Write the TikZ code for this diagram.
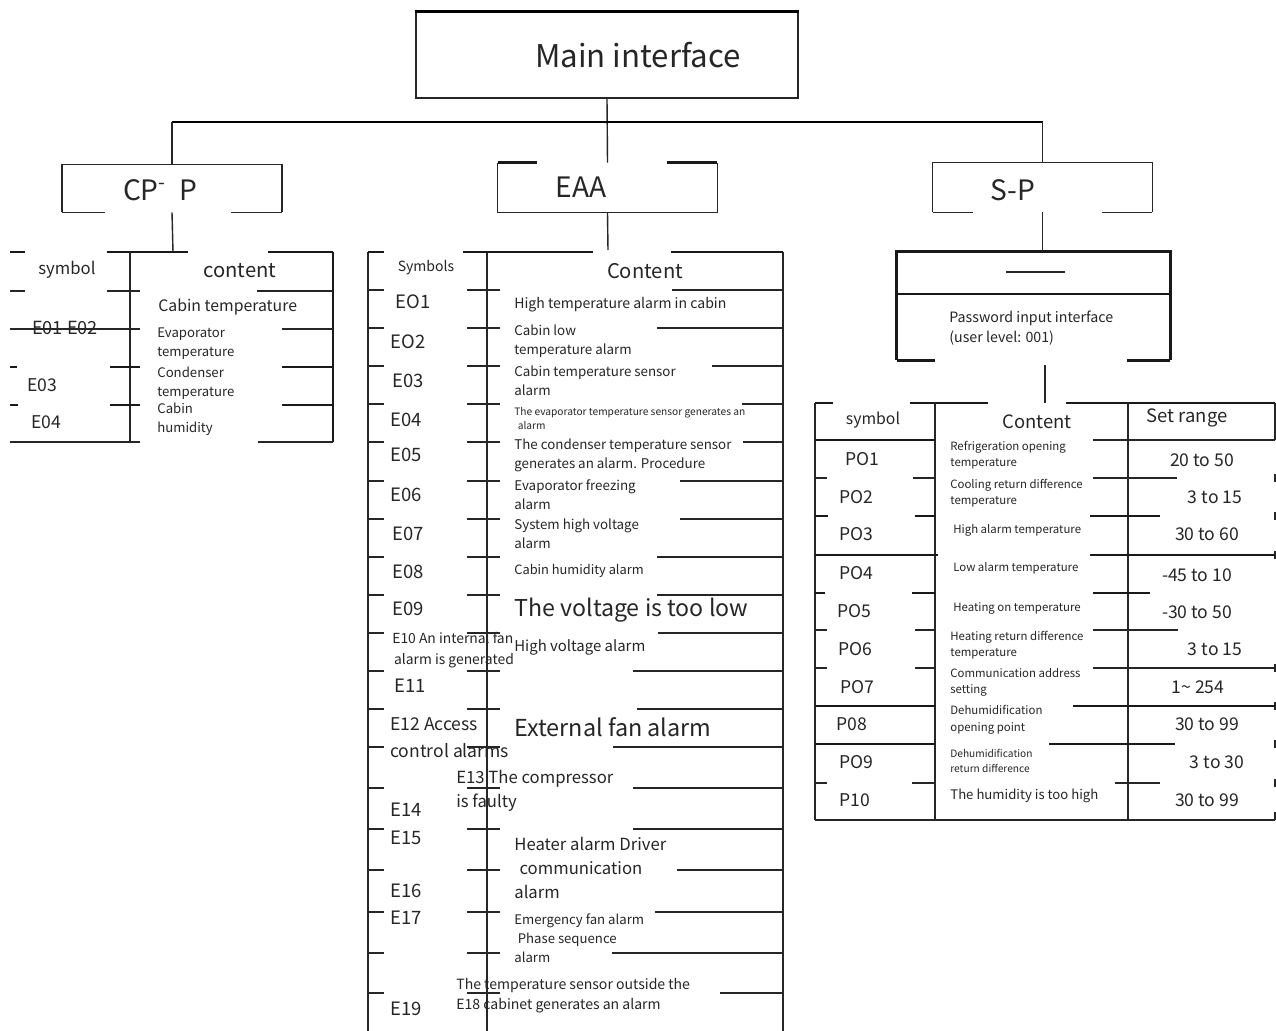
\documentclass[tikz,border=0pt]{standalone}
\usepackage{fontspec}
\setmainfont{Noto Sans CJK SC}
\newcommand\fzl[2]{\fontsize{#1}{#2}\selectfont}
\begin{document}
\begin{tikzpicture}[x=0.02cm,y=-0.02cm,
  ln/.style={line width=0.8pt, black!85},
  tk/.style={line width=1.4pt, black!90},
  txt/.style={inner sep=0pt, align=left, anchor=west, text=black!85},
  ctr/.style={inner sep=0pt, anchor=center, text=black!85}]
\useasboundingbox[fill=white] (0,0) rectangle (1276,1031);

% ---------- top level ----------
\node[ln, draw, minimum width=7.64cm, minimum height=1.72cm, inner sep=0pt] (main) at (607,55) {};
\draw[line width=1.8pt] (main.north west) -- (main.north east);
\node[ctr, font=\fzl{17.8}{20}] (maintxt) at (638,55) {Main interface};

\node[minimum width=4.38cm, minimum height=0.94cm, inner sep=0pt] (cpp) at (172,188.5) {};
\node[minimum width=4.38cm, minimum height=0.98cm, inner sep=0pt] (eaa) at (607.5,187.5) {};
\node[minimum width=4.38cm, minimum height=0.98cm, inner sep=0pt] (sp) at (1042.5,187.5) {};
\node[ctr, font=\fzl{16}{18}] (cpptxt) at (160,190) {CP\textsuperscript{-}\hspace{0.45em}P};
\node[ctr, font=\fzl{16}{18}] (eaatxt) at (581,187) {EAA};
\node[ctr, font=\fzl{16}{18}] (sptxt) at (1013,190) {S-P};

% box outlines (broken edges as in the reference)
\draw[ln] (cpp.south west) -- (cpp.north west) -- (cpp.north east) -- (cpp.south east);
\draw[ln] (cpp.south west) -- ++(43,0);
\draw[ln] (cpp.south east) -- ++(-51,0);
\draw[ln] (eaa.north west) -- (eaa.south west) -- (eaa.south east) -- (eaa.north east);
\draw[tk] (eaa.north west) -- ++(39,0);
\draw[tk] (eaa.north east) -- ++(-50,0);
\draw[ln] (sp.south west) -- (sp.north west) -- (sp.north east) -- (sp.south east);
\draw[ln] (sp.south west) -- ++(40,0);
\draw[ln] (sp.south east) -- ++(-50,0);

% connectors
\coordinate (hub) at (607,122);
\draw[ln] (main.south) -- (eaa.north);
\draw[line width=1.6pt] (cpp.north |- hub) -- (sp.north |- hub);
\draw[ln] (cpp.north |- hub) -- (cpp.north);
\draw[ln] (sp.north |- hub) -- (sp.north);

% ---------- left table ----------
\coordinate (ltop) at (173,252);
\draw[ln] (cpp.south) -- (ltop);
\draw[tk] (10,252) -- (25,252);
\draw[tk] (107,252) -- (188,252);
\draw[tk] (268,252) -- (333,252);
\draw[ln] (130,252) -- (130,442);
\draw[tk] (333,252) -- (333,442);
\draw[ln] (10,291) -- (25,291); \draw[ln] (107,291) -- (140,291); \draw[ln] (257,291) -- (333,291);
\draw[ln] (10,329) -- (140,329); \draw[ln] (282,329) -- (333,329);
\draw[tk] (10,367) -- (17,367); \draw[tk] (110,367) -- (140,367); \draw[tk] (282,367) -- (333,367);
\draw[tk] (10,405) -- (18,405); \draw[tk] (110,405) -- (140,405); \draw[tk] (282,405) -- (333,405);
\draw[ln] (10,442) -- (140,442); \draw[ln] (258,442) -- (333,442);

\node[ctr, font=\fzl{9.5}{11}] (l1) at (67,270) {symbol};
\node[ctr, font=\fzl{11.5}{13}] (l2) at (240,271) {content};
\node[txt, font=\fzl{9}{11}] (l3) at (158,307) {Cabin temperature};
\node[ctr, font=\fzl{10.3}{12}] (l4) at (65,328) {E01 E02};
\node[txt, font=\fzl{7.5}{10.8}] (l5) at (157,344) {Evaporator\\temperature};
\node[txt, font=\fzl{7.5}{10.8}] (l6) at (157,383) {Condenser\\temperature};
\node[txt, font=\fzl{7.5}{10.8}] (l7) at (157,419) {Cabin\\humidity};
\node[ctr, font=\fzl{10}{12}] (l8) at (42,385) {E03};
\node[ctr, font=\fzl{10}{12}] (l9) at (46,422) {E04};

% ---------- middle table ----------
\coordinate (mtop) at (608,250);
\draw[ln] (eaa.south) -- (mtop);
\draw[ln] (368,252) -- (368,1031);
\draw[ln] (487,252) -- (487,1031);
\draw[ln] (783,252) -- (783,1031);
\draw[tk] (368,252) -- (384,252);
\draw[tk] (463,252) -- (593,252);
\draw[tk] (671,252) -- (783,252);
\foreach \yy/\rr/\ww in {290/672/0.8, 328/657/0.8, 366/712/0.8, 404/742/1.4, 442/743/1.4,
  481/680/1.4, 519/680/0.8, 557/657/0.8, 595/657/0.8, 633/658/1.4, 671/633/1.4, 709/637/0.8,
  747/613/0.8, 788/633/0.8, 829/633/1.4, 870/677/1.4, 912/655/0.8, 953/612/0.8, 993/720/0.8}{
  \draw[line width=\ww pt, black!85] (368,\yy) -- (384,\yy);
  \draw[line width=\ww pt, black!85] (467,\yy) -- (500,\yy);
  \draw[line width=\ww pt, black!85] (\rr,\yy) -- (783,\yy);
}

\node[ctr, font=\fzl{8}{10}] (m0) at (426,268) {Symbols};
\node[ctr, font=\fzl{11.5}{13}] (m00) at (645,271) {Content};
\foreach \nm/\xx/\yy/\tt in {a/413/302/EO1, b/408/342/EO2, c/408/381/E03, d/406/420/E04,
  e/406/455/E05, f/406/495/E06, g/408/534/E07, h/408/572/E08, i/408/609/E09, j/410/686/E11,
  k/406/810/E14, l/406/838/E15, m/406/891/E16, n/406/918/E17, o/406/1009/E19}{
  \node[ctr, font=\fzl{10.5}{12}] (code\nm) at (\xx,\yy) {\tt};
}
\node[txt, font=\fzl{8}{10}] (m1) at (514,305) {High temperature alarm in cabin};
\node[txt, font=\fzl{7.6}{10.8}] (m2) at (514,341.5) {Cabin low\\temperature alarm};
\node[txt, font=\fzl{7.6}{10.8}] (m3) at (514,381) {Cabin temperature sensor\\alarm};
\node[txt, font=\fzl{5.8}{8.5}] (m4) at (514,418.5) {The evaporator temperature sensor generates an\\\hspace{2pt}alarm};
\node[txt, font=\fzl{7.6}{10.8}] (m5) at (514,455.5) {The condenser temperature sensor\\generates an alarm. Procedure};
\node[txt, font=\fzl{7.6}{10.8}] (m6) at (514,494.5) {Evaporator freezing\\alarm};
\node[txt, font=\fzl{7.6}{10.8}] (m7) at (514,533.5) {System high voltage\\alarm};
\node[txt, font=\fzl{7.3}{9}] (m8) at (514,571) {Cabin humidity alarm};
\node[txt, font=\fzl{13.2}{15}] (m9) at (514,610) {The voltage is too low};
\node[txt, font=\fzl{7.9}{11.9}] (m10) at (392,650.5) {E10 An internal fan\\\hspace{1pt}alarm is generated};
\node[txt, font=\fzl{8.5}{10}] (m11) at (514,647) {High voltage alarm};
\node[txt, font=\fzl{10}{15.3}] (m12) at (390,737.5) {E12 Access\\control alarms};
\node[txt, font=\fzl{13.3}{15}] (m13) at (514,727) {External fan alarm};
\node[txt, font=\fzl{9.5}{13.6}] (m14) at (456,791) {E13 The compressor\\is faulty};
\node[txt, font=\fzl{9.5}{13.6}] (m15) at (514,868) {Heater alarm Driver\\\hspace{3pt}communication\\alarm};
\node[txt, font=\fzl{7.5}{10.8}] (m16) at (514,938) {Emergency fan alarm\\\hspace{2pt}Phase sequence\\alarm};
\node[txt, font=\fzl{8}{11.3}] (m17) at (456,996) {The temperature sensor outside the\\E18 cabinet generates an alarm};

% ---------- right side ----------
\node[minimum width=5.46cm, minimum height=2.16cm, inner sep=0pt] (pw) at (1033.5,306) {};
\draw[tk] (pw.south west) -- (pw.north west) -- (pw.north east) -- (pw.south east);
\draw[tk] (897,294) -- (1170,294);
\draw[tk] (pw.south west) -- ++(38,0);
\draw[tk] (pw.south east) -- ++(-43,0);
\draw[ln] (1006,272) -- (1065,272);
\draw[ln] (sp.south) -- (sp.south |- pw.north);
\node[txt, font=\fzl{8.1}{11.3}] (pwtxt) at (949,328) {Password input interface\\(user level: 001)};

\coordinate (rtop) at (1045,403);
\draw[ln] (rtop |- 0,365) -- (rtop);

\draw[tk] (815,403) -- (833,403);
\draw[tk] (910,403) -- (988,403);
\draw[tk] (1066,403) -- (1275,403);
\draw[ln] (815,403) -- (815,820);
\draw[ln] (935,403) -- (935,820);
\draw[ln] (1128,403) -- (1128,820);
\draw[ln] (1275,403) -- (1275,440);
\foreach \yy in {478,516,555,668,706,744,783,816}{ \draw[ln] (1275,\yy-4) -- (1275,\yy+4); }
\draw[tk] (815,440) -- (935,440); \draw[ln] (1093,440) -- (1275,440);
\draw[ln] (815,478) -- (827,478); \draw[ln] (913,478) -- (935,478); \draw[ln] (1093,478) -- (1177,478);
\draw[tk] (815,516) -- (828,516); \draw[tk] (915,516) -- (935,516); \draw[tk] (1090,516) -- (1160,516);
\draw[tk] (815,555) -- (938,555); \draw[tk] (1090,555) -- (1275,555);
\draw[tk] (815,593) -- (825,593); \draw[tk] (912,593) -- (935,593); \draw[tk] (1093,593) -- (1150,593);
\draw[ln] (815,630) -- (827,630); \draw[ln] (915,630) -- (935,630); \draw[ln] (1093,630) -- (1178,630);
\draw[ln] (815,668) -- (827,668); \draw[ln] (915,668) -- (935,668); \draw[ln] (1093,668) -- (1275,668);
\draw[tk] (815,706) -- (935,706); \draw[tk] (1073,706) -- (1275,706);
\draw[tk] (815,744) -- (935,744); \draw[tk] (1049,744) -- (1175,744);
\draw[ln] (815,783) -- (827,783); \draw[ln] (912,783) -- (935,783); \draw[ln] (1115,783) -- (1160,783);
\draw[ln] (815,820) -- (1275,820);

\node[ctr, font=\fzl{9}{11}] (r1) at (873,420) {symbol};
\node[ctr, font=\fzl{10.5}{12}] (r2) at (1037,422) {Content};
\node[ctr, font=\fzl{10.5}{12}] (r3) at (1187,418) {Set range};
\foreach \nm/\xx/\yy/\tt in {a/862/459/PO1, b/856/497/PO2, c/856/534/PO3, d/856/573/PO4,
  e/854/611/PO5, f/855/649/PO6, g/857/687/PO7, h/852/724/P08, i/856/762/PO9, j/855/800/P10}{
  \node[ctr, font=\fzl{10}{12}] (pc\nm) at (\xx,\yy) {\tt};
}
\foreach \nm/\xx/\yy/\tt in {a/1202/460/20 to 50, b/1215/497/3 to 15, c/1207/534/30 to 60,
  d/1197/575/-45 to 10, e/1197/612/-30 to 50, f/1215/649/3 to 15, g/1198/687/1\textasciitilde\ 254,
  h/1207/724/30 to 99, i/1217/762/3 to 30, j/1207/800/30 to 99}{
  \node[ctr, font=\fzl{10}{12}] (rg\nm) at (\xx,\yy) {\tt};
}
\node[txt, font=\fzl{6.5}{9}] (p1) at (950,455) {Refrigeration opening\\temperature};
\node[txt, font=\fzl{6.5}{9}] (p2) at (950,493) {Cooling return difference\\temperature};
\node[txt, font=\fzl{6.5}{9}] (p3) at (953,530) {High alarm temperature};
\node[txt, font=\fzl{6.5}{9}] (p4) at (953,568) {Low alarm temperature};
\node[txt, font=\fzl{6.5}{9}] (p5) at (953,608) {Heating on temperature};
\node[txt, font=\fzl{6.5}{9}] (p6) at (950,645.5) {Heating return difference\\temperature};
\node[txt, font=\fzl{6.5}{9}] (p7) at (950,682.5) {Communication address\\setting};
\node[txt, font=\fzl{6.5}{9.5}] (p8) at (950,720) {Dehumidification\\opening point};
\node[txt, font=\fzl{5.8}{9}] (p9) at (950,761) {Dehumidification\\return difference};
\node[txt, font=\fzl{7.5}{9}] (p10) at (950,796) {The humidity is too high};
\end{tikzpicture}
\end{document}
